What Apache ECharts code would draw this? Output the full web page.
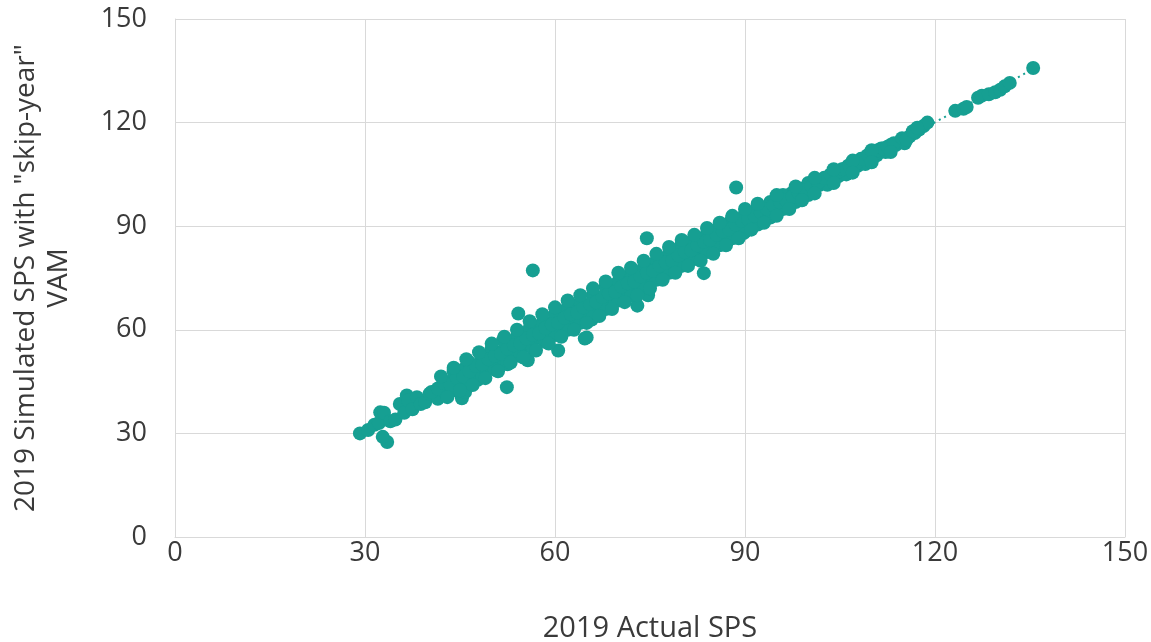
<!DOCTYPE html>
<html>
<head>
<meta charset="utf-8">
<script src="https://cdn.jsdelivr.net/npm/echarts@6/dist/echarts.min.js"></script>
<style>html,body{margin:0;padding:0;background:#fff}#c{width:1151px;height:642px}</style>
</head>
<body>
<div id="c"></div>
<script>
const xTicks = [0, 30, 60, 90, 120, 150];
const yTicks = [0, 30, 60, 90, 120, 150];
const actualSPS = [
29.2,30.5,31.5,32.2,32.4,33.0,33.5,32.8,34.0,34.8,35.5,36.2,36.6,36.8,37.5,38.2,38.8,39.5,40.2,41.0,41.5,42.2,42.8,43.5,44.0,44.5,45.0,45.3,45.5,45.8,46.2,46.8,47.3,47.8,48.2,48.8,49.3,49.8,50.3,50.8,51.3,51.8,52.3,52.8,53.3,53.8,54.3,54.8,55.3,55.7,55.8,56.3,56.8,57.3,57.8,58.3,58.8,59.3,59.8,60.3,60.5,60.8,61.3,61.8,62.3,62.8,63.3,63.8,64.3,64.7,64.8,65.0,65.3,65.8,66.3,66.8,67.3,67.8,68.3,68.8,69.3,69.8,70.3,70.8,71.3,71.8,72.3,72.8,73.0,73.3,73.8,74.3,74.7,74.8,75.3,75.8,76.3,76.8,77.3,77.8,78.3,78.8,79.3,79.8,80.3,80.8,81.3,81.8,82.3,82.8,83.3,83.8,84.3,84.8,85.3,85.8,86.3,86.8,87.3,87.8,88.3,88.8,89.3,89.8,90.3,90.8,91.3,91.8,92.3,92.8,93.3,93.8,94.3,94.8,95.3,95.8,96.3,96.8,97.3,97.8,98.3,98.8,99.3,99.8,100.3,100.8,101.3,101.8,102.3,102.8,103.3,103.8,104.3,104.8,105.3,105.8,106.3,106.8,107.3,107.8,108.3,108.8,109.3,109.8,110.3,110.8,111.5,112.2,113.0,113.8,114.5,115.2,116.0,116.8,117.5,118.2,118.8,123.2,124.5,125.0,126.8,127.4,128.5,129.5,130.3,131.0,131.8,135.5,
56.5,54.2,52.4,74.5,83.5,88.6,
44.0,46.5,48.5,50.0,52.0,54.0,56.0,58.0,60.0,62.0,64.0,66.0,68.0,70.0,72.0,74.0,76.0,78.0,80.0,82.0,84.0,86.0,88.0,90.0,92.0,94.0,96.0,98.0,100.0,
44.5,46.5,48.5,50.5,52.5,54.5,56.5,58.5,60.0,62.0,64.0,66.0,68.0,70.0,72.0,74.0,76.0,78.0,80.0,82.0,84.0,86.0,88.0,90.0,92.0,94.0,96.0,98.0,100.0,103.0,106.0,109.0,
40.5,41.5,42.5,43.5,44.5,45.5,46.5,47.5,48.5,49.5,50.5,51.5,52.5,53.5,54.5,55.5,56.5,57.5,58.5,59.5,60.5,61.5,62.5,63.5,64.5,65.5,66.5,67.5,68.5,69.5,70.5,71.5,72.5,73.5,74.5,75.5,76.5,77.5,78.5,79.5,80.5,81.5,82.5,83.5,84.5,85.5,86.5,87.5,88.5,89.5,90.5,91.5,92.5,93.5,94.5,95.5,96.5,97.5,98.5,99.5,100.5,101.5,102.5,103.5,104.5,105.5,106.5,107.5,108.5,109.5,110.5,111.0,111.8,112.5,113.5,114.8,115.5,116.5,117.2
];
const simulatedSPS = [
30.0,31.0,32.5,33.0,36.1,36.0,27.5,29.0,33.5,34.0,38.5,36.0,41.0,39.5,37.0,40.5,38.5,39.0,41.5,42.0,40.0,43.5,41.5,45.0,42.5,47.5,44.0,40.2,48.5,42.0,46.0,49.0,47.0,45.5,50.5,48.0,51.0,49.5,52.0,50.0,53.5,57.0,55.0,52.5,56.0,53.5,57.0,55.0,58.5,51.2,56.0,59.0,57.5,60.5,58.5,61.0,59.5,62.0,60.5,63.5,54.0,61.0,64.5,62.0,66.0,63.0,67.0,65.5,64.0,57.5,67.0,57.8,65.0,63.0,68.5,66.5,69.5,67.0,70.5,68.5,72.0,70.0,73.5,71.0,74.5,72.5,76.0,73.5,67.0,71.0,76.5,74.5,70.0,78.0,75.5,79.0,77.0,80.5,78.0,81.0,79.5,82.5,80.5,84.0,81.5,84.5,82.5,86.0,83.5,86.5,84.0,87.0,85.5,88.0,86.0,89.5,87.0,90.0,88.5,91.5,89.0,92.0,90.0,88.0,92.5,91.0,93.5,92.0,94.5,93.0,95.5,94.0,96.0,95.0,97.5,96.0,98.5,97.5,99.5,98.0,100.5,99.5,101.0,100.0,102.0,101.0,103.0,102.0,103.5,103.0,104.5,103.5,105.5,104.5,106.5,105.5,107.5,106.5,108.5,107.5,109.5,108.5,110.5,109.5,111.5,110.5,112.5,111.5,113.5,113.5,114.5,114.0,116.0,117.0,118.0,119.0,120.0,123.4,124.0,124.5,127.2,127.8,128.2,128.8,129.5,130.5,131.5,135.8,
77.2,64.7,43.4,86.5,76.4,101.2,
48.0,50.5,52.5,54.5,56.5,58.0,60.5,62.0,64.5,66.5,68.0,70.0,72.5,74.0,76.5,78.0,80.0,82.0,84.5,86.0,87.5,90.0,92.5,93.5,95.5,97.0,99.0,100.5,102.5,
42.5,44.5,46.5,48.5,50.0,52.5,54.5,56.5,58.5,60.0,62.0,64.0,66.0,68.5,70.0,72.0,74.5,76.5,78.5,80.5,82.5,84.5,86.5,88.5,90.5,92.5,95.0,97.0,99.0,102.0,105.0,108.0,
42.0,43.0,44.5,44.0,46.0,46.5,48.0,49.5,50.0,51.5,52.5,53.0,54.5,55.5,56.0,57.5,58.5,59.0,60.5,61.5,62.0,63.5,64.5,65.0,66.5,67.5,68.0,69.5,70.5,71.0,72.5,73.5,74.0,75.5,76.5,77.0,78.5,79.5,80.0,81.5,82.5,83.0,84.5,85.5,86.0,87.5,88.5,89.0,90.5,91.5,92.0,93.0,94.0,95.0,96.0,97.0,97.5,98.5,99.5,100.5,101.5,102.5,104.0,105.0,105.5,106.5,107.5,108.0,109.5,110.5,111.0,112.0,112.5,113.0,114.0,115.5,115.0,117.5,118.5
];
const upperActual = [42,44,46,48,50,52,54,56,58,60,62,64,66,68,70,72,74,76,78,80,82,84,86,88,90,92,95,98,101,104,107,110];
const upperSimulated = [46.5,49.0,51.5,53.5,56.0,58.0,60.0,62.5,64.5,66.5,68.5,70.0,72.0,74.0,76.5,78.0,80.0,82.0,84.0,86.0,87.5,89.5,91.0,93.0,95.0,96.5,99.0,101.5,104.0,106.5,109.0,112.0];
const lowerActual = [43,45,47,49,51,53,55,57,59,61,63,65,67,69,71,73,75,77,79,81,83,85,87,89,91,93,95,97,99,101,104,107,110,113];
const lowerSimulated = [40.5,42.5,44.0,46.0,48.0,50.5,52.0,54.0,56.0,58.0,60.0,62.0,64.0,66.0,68.0,70.0,72.0,74.5,76.5,78.5,80.0,82.0,84.5,86.5,89.0,91.0,93.0,95.0,97.5,99.5,102.5,105.5,108.5,111.5];
const trendX = [29, 136];
const trendY = [29.6, 136.0];

const points = actualSPS.map((v, i) => [v, simulatedSPS[i]])
  .concat(upperActual.map((v, i) => [v, upperSimulated[i]]))
  .concat(lowerActual.map((v, i) => [v, lowerSimulated[i]]));
const trend = trendX.map((v, i) => [v, trendY[i]]);

const chart = echarts.init(document.getElementById('c'), null, {renderer: 'canvas'});
const gridColor = '#d9d9d9';
const textColor = '#3a3a3a';
chart.setOption({
  animation: false,
  backgroundColor: '#ffffff',
  grid: {left: 175, right: 26, top: 19, bottom: 105, containLabel: false, outerBoundsMode: 'none'},
  xAxis: {
    type: 'value', min: xTicks[0], max: xTicks[xTicks.length - 1], interval: 30,
    name: '2019 Actual SPS', nameLocation: 'middle', nameGap: 77,
    nameTextStyle: {fontFamily: 'Open Sans', fontSize: 29, color: textColor},
    axisLine: {show: true, lineStyle: {color: gridColor, width: 1}},
    axisTick: {show: false},
    axisLabel: {fontFamily: 'Open Sans', fontSize: 27, color: textColor, margin: 3},
    splitLine: {show: true, lineStyle: {color: gridColor, width: 1}}
  },
  yAxis: {
    type: 'value', min: yTicks[0], max: yTicks[yTicks.length - 1], interval: 30,
    name: '2019 Simulated SPS with "skip-year"\nVAM', nameLocation: 'middle', nameGap: 99, nameRotate: 90,
    nameTextStyle: {fontFamily: 'Open Sans', fontSize: 28, color: textColor, lineHeight: 33},
    axisLine: {show: true, lineStyle: {color: gridColor, width: 1}},
    axisTick: {show: false},
    axisLabel: {fontFamily: 'Open Sans', fontSize: 27, color: textColor, margin: 28},
    splitLine: {show: true, lineStyle: {color: gridColor, width: 1}}
  },
  series: [
    {
      type: 'line', data: trend, showSymbol: false, symbol: 'none', z: 1,
      lineStyle: {color: '#169F92', width: 2, type: [2, 4]}
    },
    {
      type: 'scatter', data: points, symbolSize: 14, z: 2,
      itemStyle: {color: '#169F92', opacity: 1}
    }
  ]
});
</script>
</body>
</html>
